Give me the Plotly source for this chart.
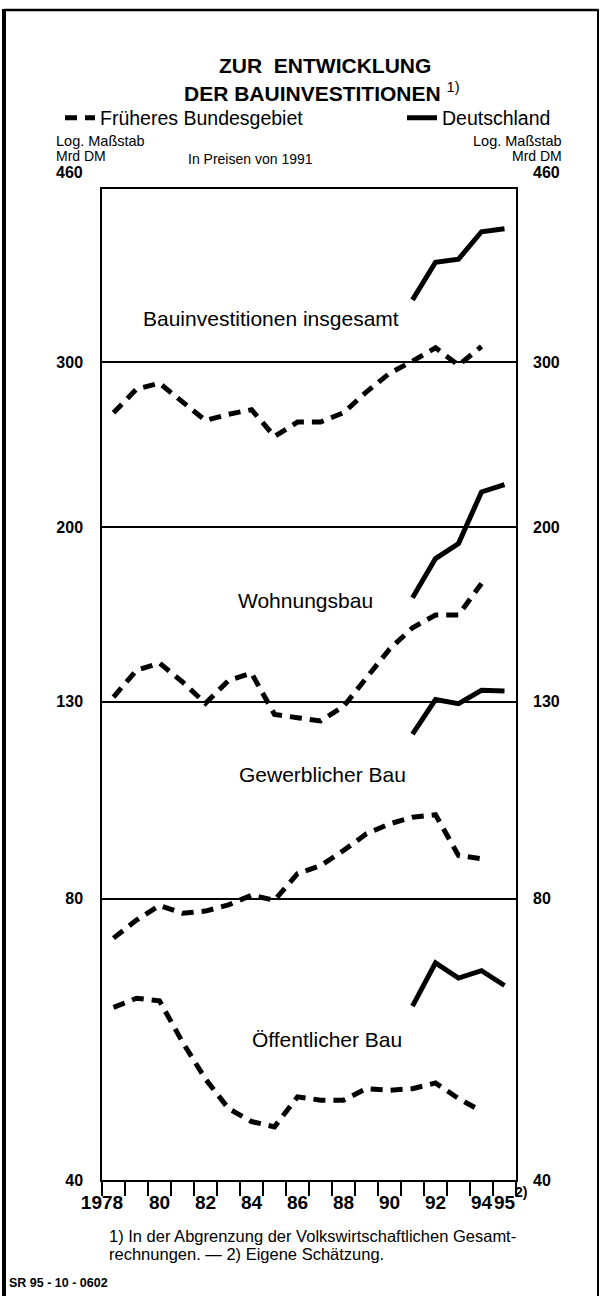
import math
import plotly.graph_objects as go

# ---------------- data (Mrd DM, in Preisen von 1991) ----------------
years_west = list(range(1978, 1995))          # Früheres Bundesgebiet 1978-1994
years_de = [1991, 1992, 1993, 1994, 1995]     # Deutschland 1991-1995

bau_west = [265, 281, 285, 272, 260, 264, 267, 250, 259, 259, 265, 279, 292, 301, 311, 298, 312]
bau_de = [350, 384, 387, 414, 417]

wohn_west = [131.5, 140.5, 143, 136.5, 129.5, 137, 139.5, 126, 125, 124, 128.5, 138, 148, 156, 161, 161, 174]
wohn_de = [168, 185, 192, 218, 222]

gew_west = [72.6, 75.9, 78.7, 77.2, 77.6, 78.8, 80.7, 79.7, 85.1, 86.8, 90.1, 93.9, 96.2, 97.8, 98.4, 89.0, 88.3]
gew_de = [120, 130.7, 129.4, 133.7, 133.5]

oeff_west = [61.2, 62.6, 62.2, 56.2, 51.3, 47.7, 46.2, 45.6, 49.1, 48.7, 48.7, 50.1, 49.9, 50.1, 50.8, 48.9, 47.4]
oeff_de = [61.4, 68.3, 65.8, 67.0, 64.6]

y_ticks = [40, 80, 130, 200, 300]
y_top = 460
x_label_text = ["1978", "80", "82", "84", "86", "88", "90", "92", "94", "95"]
x_label_years = [1978, 1980, 1982, 1984, 1986, 1988, 1990, 1992, 1994, 1995]

series_labels = ["Bauinvestitionen insgesamt", "Wohnungsbau", "Gewerblicher Bau", "Öffentlicher Bau"]
series_label_pos = [(1985.35, 334), (1986.85, 167), (1987.6, 108.6), (1987.8, 56.5)]

# ---------------- layout geometry ----------------
W, H = 601, 1296
ML, MR, MT, MB = 102, 85, 189, 116
PW, PH = W - ML - MR, H - MT - MB

def px(x):
    return (x - ML) / PW

def py(y):
    return (H - MB - y) / PH

FONT = "Liberation Sans, Arial, sans-serif"
DASH = "12px,8px"
LW = 5

fig = go.Figure()

west = [bau_west, wohn_west, gew_west, oeff_west]
de = [bau_de, wohn_de, gew_de, oeff_de]

for i, vals in enumerate(west):
    fig.add_trace(go.Scatter(
        x=[y + 0.5 for y in years_west], y=vals, mode="lines",
        line=dict(color="black", width=LW, dash=DASH),
        name="Früheres Bundesgebiet", showlegend=(i == 0), legendrank=1,
        legendwidth=297, hoverinfo="skip"))
for i, vals in enumerate(de):
    fig.add_trace(go.Scatter(
        x=[y + 0.5 for y in years_de], y=vals, mode="lines",
        line=dict(color="black", width=LW),
        name="Deutschland", showlegend=(i == 0), legendrank=2,
        hoverinfo="skip"))

# invisible trace to activate the secondary (label) axes
fig.add_trace(go.Scatter(x=[1990], y=[100], xaxis="x2", yaxis="y2", mode="lines",
                         line=dict(width=0), showlegend=False, hoverinfo="skip"))

ylog_range = [math.log10(40), math.log10(y_top)]
tickfont_y = dict(size=16, family=FONT, weight=700)

fig.update_layout(
    width=W, height=H,
    margin=dict(l=ML, r=MR, t=MT, b=MB, pad=0),
    paper_bgcolor="white", plot_bgcolor="white",
    font=dict(family=FONT, color="black"),
    xaxis=dict(range=[1978, 1996], tickmode="array", tickvals=list(range(1978, 1997)),
               ticks="outside", ticklen=14, tickwidth=1.5, tickcolor="black",
               showticklabels=False, showgrid=False, zeroline=False,
               showline=True, linecolor="black", linewidth=1.5, mirror=True),
    xaxis2=dict(range=[1978, 1996], overlaying="x", anchor="y", side="bottom",
                tickmode="array",
                tickvals=[x_label_years[0]] + [y + 0.5 for y in x_label_years[1:]],
                ticktext=x_label_text, ticks="", tickangle=0, ticklabelstandoff=9,
                tickfont=dict(size=19, family=FONT, weight=700),
                showgrid=False, zeroline=False, showline=False),
    yaxis=dict(type="log", range=ylog_range, tickmode="array", tickvals=y_ticks,
               ticktext=[str(v) for v in y_ticks], ticks="",
               ticklabelstandoff=14, tickfont=tickfont_y,
               showgrid=True, gridcolor="black", gridwidth=1.5, zeroline=False,
               showline=True, linecolor="black", linewidth=1.5, mirror=True),
    yaxis2=dict(type="log", range=ylog_range, overlaying="y", anchor="x", side="right",
                tickmode="array", tickvals=y_ticks, ticktext=[str(v) for v in y_ticks],
                ticks="", ticklabelstandoff=16, tickfont=tickfont_y,
                showgrid=False, zeroline=False, showline=False),
    legend=dict(orientation="h", x=px(60), y=py(118), xanchor="left", yanchor="middle",
                font=dict(size=19.5, family=FONT), bgcolor="rgba(0,0,0,0)",
                itemwidth=30, traceorder="normal", borderwidth=0),
    showlegend=True,
)

def note(text, x, y, xanchor="left", size=15, weight=400, **kw):
    return dict(text=text, x=px(x), y=py(y), xref="paper", yref="paper", showarrow=False,
                xanchor=xanchor, yanchor="middle", borderpad=0,
                font=dict(size=size, family=FONT, weight=weight), **kw)

ann = [
    note("ZUR  ENTWICKLUNG", 325, 66, "center", 21, 700),
    note("DER BAUINVESTITIONEN <span style='font-weight:normal'><sup>1)</sup></span>",
         322, 92, "center", 21, 700),
    note("Log. Maßstab", 55, 141, "left", 14.5),
    note("Mrd DM", 55, 156, "left", 14),
    note("Log. Maßstab", 563, 141, "right", 14.5),
    note("Mrd DM", 563, 156, "right", 14),
    note("In Preisen von 1991", 250, 159, "center", 14),
    note(str(y_top), 84, 173, "right", 16, 700),
    note(str(y_top), 532, 173, "left", 16, 700),
    note("2)", 514, 1192, "left", 14, 700),
    note("1) In der Abgrenzung der Volkswirtschaftlichen Gesamt-", 108, 1236, "left", 16.5),
    note("rechnungen. — 2) Eigene Schätzung.", 108, 1254, "left", 16.5),
    note("SR 95 - 10 - 0602", 8, 1283, "left", 12.5, 700),
]
for txt, (xx, yy) in zip(series_labels, series_label_pos):
    ann.append(dict(text=txt, x=xx, y=math.log10(yy), xref="x", yref="y",
                    showarrow=False, xanchor="center", yanchor="middle",
                    font=dict(size=21, family=FONT)))
fig.update_layout(annotations=ann)

# outer frame of the figure
shapes = [
    dict(type="line", xref="paper", yref="paper", x0=px(4), x1=px(4), y0=py(9), y1=py(1296),
         line=dict(color="black", width=4)),
    dict(type="line", xref="paper", yref="paper", x0=px(4), x1=px(598), y0=py(10), y1=py(10),
         line=dict(color="black", width=2.5)),
    dict(type="line", xref="paper", yref="paper", x0=px(598), x1=px(598), y0=py(9), y1=py(1296),
         line=dict(color="black", width=2)),
]
fig.update_layout(shapes=shapes)

fig.write_html("out.html", config={"displayModeBar": False},
               post_script="document.body.style.margin='0px';")
